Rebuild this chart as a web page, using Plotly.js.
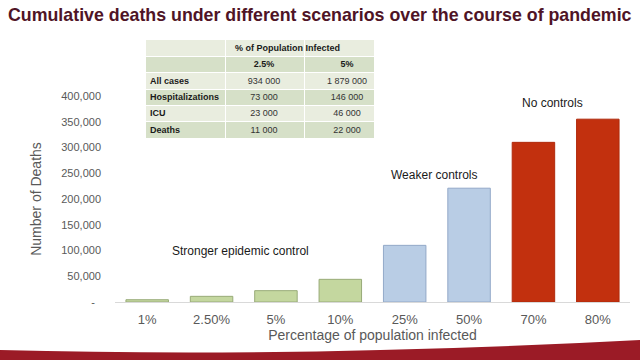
<!DOCTYPE html>
<html>
<head>
<meta charset="utf-8">
<script src="https://cdn.plot.ly/plotly-3.0.1.min.js"></script>
<style>html,body{margin:0;padding:0;background:#fff;}#chart{width:640px;height:360px;}</style>
</head>
<body>
<div id="chart"></div>
<script>
// ---- data ----
const categories = ["1%", "2.50%", "5%", "10%", "25%", "50%", "70%", "80%"];
const deaths = [4400, 11000, 22000, 44000, 110000, 221000, 310000, 355000];
const scenario = ["strong", "strong", "strong", "strong", "weak", "weak", "none", "none"];
const yTickVals = [0, 50000, 100000, 150000, 200000, 250000, 300000, 350000, 400000];
const yTickText = ["-\u00a0\u00a0", "50,000", "100,000", "150,000", "200,000", "250,000", "300,000", "350,000", "400,000"];

const tableTitle = "% of Population Infected";
const tableCols = ["2.5%", "5%"];
const tableRows = ["All cases", "Hospitalizations", "ICU", "Deaths"];
const col25 = ["934 000", "73 000", "23 000", "11 000"];
const col5 = ["1 879 000", "146 000", "46 000", "22 000"];

const labels = [
  {text: "Stronger epidemic control", x: 1.45, y: 100000},
  {text: "Weaker controls", x: 4.46, y: 246000},
  {text: "No controls", x: 6.3, y: 386000}
];

// ---- style / layout geometry (pixels) ----
const fillColors = {strong: "#c4d79f", weak: "#b9cde5", none: "#c2300e"};
const lineColors = {strong: "#98ab78", weak: "#93a9c8", none: "#b02a0c"};
const light = "#e9eddf", dark = "#d6e0c8";
const FONT = "Arial, 'Liberation Sans', sans-serif";

const W = 640, H = 360, ml = 115, mr = 10, mt = 30, mb = 58;
const pw = W - ml - mr, ph = H - mt - mb;
const px = x => (x - ml) / pw;
const py = y => (H - mb - y) / ph;

// table grid geometry in pixels
const colEdges = [146, 226, 305, 375];
const rowEdges = [40, 57, 73, 90, 106, 122, 139];
const colText = [150, 264, 347];
const rowMid = rowEdges.slice(0, -1).map((e, i) => (e + rowEdges[i + 1]) / 2);

const bars = {
  type: "bar",
  x: categories,
  y: deaths,
  marker: {
    color: scenario.map(s => fillColors[s]),
    line: {color: scenario.map(s => lineColors[s]), width: 1}
  },
  width: 0.66,
  hoverinfo: "x+y",
  showlegend: false
};

const nRows = rowEdges.length - 1;
const shade = [];
for (let r = 0; r < nRows; r++) shade.push([0, 1, 2].map(() => (r % 2 === 0 ? 0 : 1)));

const tableFill = {
  type: "heatmap",
  xaxis: "x2", yaxis: "y2",
  x: colEdges,
  y: rowEdges,
  z: shade,
  colorscale: [[0, light], [1, dark]],
  zmin: 0, zmax: 1,
  showscale: false,
  xgap: 1, ygap: 1,
  hoverinfo: "skip"
};

const rowLabelText = {
  type: "scatter", mode: "text",
  xaxis: "x2", yaxis: "y2",
  x: tableRows.map(() => colText[0]),
  y: tableRows.map((r, i) => rowMid[i + 2]),
  text: tableRows.map(r => "<b>" + r + "</b>"),
  textposition: "middle right",
  textfont: {family: FONT, size: 9, color: "#1a1a1a"},
  showlegend: false, hoverinfo: "skip", cliponaxis: false
};

const headerText = {
  type: "scatter", mode: "text",
  xaxis: "x2", yaxis: "y2",
  x: [(colText[1] + colText[2]) / 2 - 18, colText[1], colText[2]],
  y: [rowMid[0], rowMid[1], rowMid[1]],
  text: [tableTitle].concat(tableCols).map(t => "<b>" + t + "</b>"),
  textposition: "middle center",
  textfont: {family: FONT, size: 9, color: "#1a1a1a"},
  showlegend: false, hoverinfo: "skip", cliponaxis: false
};

const valueText = {
  type: "scatter", mode: "text",
  xaxis: "x2", yaxis: "y2",
  x: col25.map(() => colText[1]).concat(col5.map(() => colText[2])),
  y: col25.map((v, i) => rowMid[i + 2]).concat(col5.map((v, i) => rowMid[i + 2])),
  text: col25.concat(col5),
  textposition: "middle center",
  textfont: {family: FONT, size: 9, color: "#333333"},
  showlegend: false, hoverinfo: "skip", cliponaxis: false
};

const layout = {
  width: W, height: H,
  margin: {l: ml, r: mr, t: mt, b: mb, pad: 0},
  paper_bgcolor: "#ffffff",
  plot_bgcolor: "rgba(0,0,0,0)",
  font: {family: FONT, color: "#595959"},
  showlegend: false,
  title: {
    text: "<b>Cumulative deaths under different scenarios over the course of pandemic</b>",
    xref: "container", yref: "container",
    x: 8 / W, xanchor: "left",
    y: 1 - 15 / H, yanchor: "middle",
    font: {size: 17.8, color: "#4f1426", family: FONT}
  },
  bargap: 0.33,
  xaxis: {
    type: "category",
    showline: true, linecolor: "#d9d9d9", linewidth: 1,
    ticks: "", showgrid: false, zeroline: false,
    tickfont: {size: 13, color: "#595959"},
    ticklabelstandoff: 5,
    title: {text: "Percentage of population infected", font: {size: 14, color: "#595959"}, standoff: 4}
  },
  yaxis: {
    domain: [0, py(96)],
    range: [0, 400000],
    tickmode: "array", tickvals: yTickVals, ticktext: yTickText,
    showgrid: false, zeroline: false, showline: false, ticks: "",
    tickfont: {size: 11, color: "#595959"},
    ticklabelstandoff: 13,
    title: {text: "Number of Deaths", font: {size: 14, color: "#595959"}, standoff: 16}
  },
  xaxis2: {
    domain: [px(colEdges[0]), px(colEdges[colEdges.length - 1])], anchor: "y2",
    range: [colEdges[0], colEdges[colEdges.length - 1]], visible: false, fixedrange: true
  },
  yaxis2: {
    domain: [py(rowEdges[rowEdges.length - 1]), py(rowEdges[0])], anchor: "x2",
    range: [rowEdges[rowEdges.length - 1], rowEdges[0]], visible: false, fixedrange: true
  },
  annotations: labels.map(l => ({
    text: l.text, x: l.x, y: l.y, xref: "x", yref: "y",
    showarrow: false, xanchor: "center", yanchor: "middle",
    font: {size: 12, color: "#1a1a1a"}
  })),
  shapes: [
    {
      type: "path", xref: "paper", yref: "paper", layer: "above",
      path: `M ${px(0)},${py(350)} Q ${px(300)},${py(358)} ${px(640)},${py(340)} L ${px(640)},${py(361)} L ${px(0)},${py(361)} Z`,
      fillcolor: "#9b1b26", line: {width: 0}
    }
  ]
};

Plotly.newPlot("chart", [bars, tableFill, rowLabelText, headerText, valueText], layout, {displayModeBar: false, staticPlot: true});
</script>
</body>
</html>
